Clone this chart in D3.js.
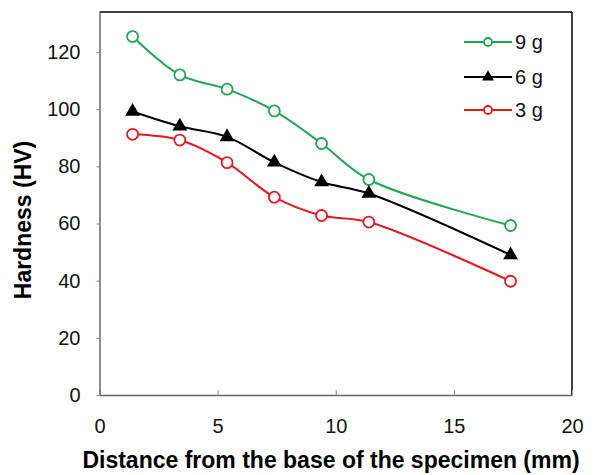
<!DOCTYPE html>
<html>
<head>
<meta charset="utf-8">
<script src="https://cdn.jsdelivr.net/npm/d3@7"></script>
<style>
  body { margin: 0; background: #fff; }
  text { font-family: Arial, "Liberation Sans", sans-serif; }
</style>
</head>
<body>
<div class="container"></div>
<script>
// hardness vs distance, three loads

var width = 594;
var height = 475;

var distance = [1.4, 3.4, 5.4, 7.4, 9.4, 11.4, 17.4];
var hv9 = [125.4, 112, 107, 99.4, 88, 75.4, 59.3];
var hv6 = [99.2, 94, 90.3, 81.4, 74.5, 70.5, 49];
var hv3 = [91.2, 89.2, 81.3, 69.2, 62.8, 60.5, 39.8];
var seriesNames = ["9 g", "6 g", "3 g"];
var xTicks = [0, 5, 10, 15, 20];
var yTicks = [0, 20, 40, 60, 80, 100, 120];

var series = [
  {name: seriesNames[0], values: hv9, color: "#1fa64f", marker: "circle"},
  {name: seriesNames[1], values: hv6, color: "#000000", marker: "triangle"},
  {name: seriesNames[2], values: hv3, color: "#e3191f", marker: "circle"}
];

var margin = {left: 99.5, right: 22, top: 12, bottom: 80};

var x = d3.scaleLinear().domain([0, 20]).range([margin.left, width - margin.right]);
var y = d3.scaleLinear().domain([0, 134]).range([height - margin.bottom, margin.top]);

var svg = d3.select(".container").append("svg")
    .attr("width", width)
    .attr("height", height);

// frame: gray axes left/bottom, black top/right
svg.append("line")
  .attr("x1", x(0)).attr("x2", x(20))
  .attr("y1", y(134)).attr("y2", y(134))
  .attr("stroke", "#000").attr("stroke-width", 1.5);
svg.append("line")
  .attr("x1", x(20)).attr("x2", x(20))
  .attr("y1", y(134)).attr("y2", y(0))
  .attr("stroke", "#000").attr("stroke-width", 1.5);

var xAxis = svg.append("g")
  .attr("transform", "translate(0," + y(0) + ")")
  .call(d3.axisBottom(x).tickValues(xTicks).tickSizeInner(-5).tickSizeOuter(0).tickPadding(24));
var yAxis = svg.append("g")
  .attr("transform", "translate(" + x(0) + ",0)")
  .call(d3.axisLeft(y).tickValues(yTicks).tickSizeInner(3).tickSizeOuter(0).tickPadding(16));

[xAxis, yAxis].forEach(function(a) {
  a.select(".domain").attr("stroke", "#666").attr("stroke-width", 1.5);
  a.selectAll(".tick line").attr("stroke", "#888");
  a.selectAll(".tick text").attr("font-size", 20).attr("fill", "#111")
    .attr("font-family", "Arial, 'Liberation Sans', sans-serif");
});
xAxis.selectAll(".tick text").attr("dy", "0.71em");

var line = d3.line()
  .x(function(d, i) { return x(distance[i]); })
  .y(function(d) { return y(d); })
  .curve(d3.curveCatmullRom.alpha(0.5));

var tri = d3.symbol().type(d3.symbolTriangle);

series.forEach(function(s) {
  svg.append("path")
    .attr("d", line(s.values))
    .attr("fill", "none")
    .attr("stroke", s.color)
    .attr("stroke-width", 2);

  var pts = svg.selectAll(null).data(s.values).enter();
  if (s.marker == "circle") {
    pts.append("circle")
      .attr("cx", function(d, i) { return x(distance[i]); })
      .attr("cy", function(d) { return y(d); })
      .attr("r", 5.5)
      .attr("fill", "#fff")
      .attr("stroke", s.color)
      .attr("stroke-width", 1.8);
  } else {
    pts.append("path")
      .attr("d", tri.size(95)())
      .attr("transform", function(d, i) { return "translate(" + x(distance[i]) + "," + y(d) + ")"; })
      .attr("fill", s.color);
  }
});

// legend
var legend = svg.append("g");
var legendY = [42, 77, 110];
series.forEach(function(s, i) {
  var g = legend.append("g").attr("transform", "translate(0," + legendY[i] + ")");
  g.append("line").attr("x1", 464).attr("x2", 512).attr("y1", 0).attr("y2", 0)
    .attr("stroke", s.color).attr("stroke-width", 2);
  if (s.marker == "circle") {
    g.append("circle").attr("cx", 488).attr("cy", 0).attr("r", 4)
      .attr("fill", "#fff").attr("stroke", s.color).attr("stroke-width", 1.8);
  } else {
    g.append("path").attr("d", tri.size(60)()).attr("transform", "translate(488,0)")
      .attr("fill", s.color);
  }
  g.append("text").attr("x", 515).attr("y", 0).attr("dy", "0.35em")
    .attr("font-size", 20).attr("fill", "#111").text(s.name);
});

// axis titles
svg.append("text")
  .attr("x", 331).attr("y", 468)
  .attr("text-anchor", "middle")
  .attr("font-size", 23).attr("font-weight", "bold")
  .text("Distance from the base of the specimen (mm)");

svg.append("text")
  .attr("transform", "translate(31,220) rotate(-90)")
  .attr("text-anchor", "middle")
  .attr("font-size", 23).attr("font-weight", "bold")
  .text("Hardness (HV)");
</script>
</body>
</html>
